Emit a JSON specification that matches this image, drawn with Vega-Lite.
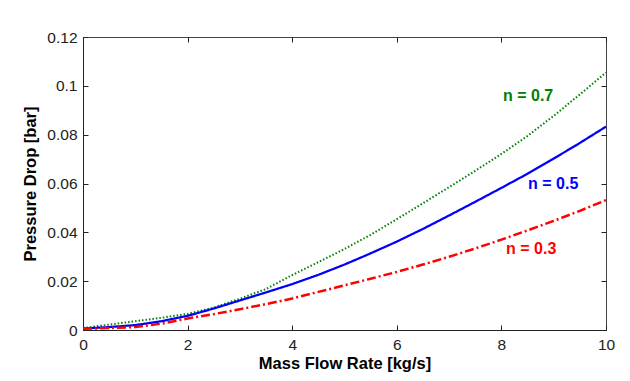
{
  "$schema": "https://vega.github.io/schema/vega-lite/v6.json",
  "width": 523,
  "height": 293,
  "autosize": {"type": "none"},
  "padding": {"left": 83, "top": 37, "right": 24, "bottom": 51},
  "background": "white",
  "config": {
    "view": {"stroke": "#444", "strokeWidth": 1},
    "axis": {
      "grid": false,
      "labelFont": "Liberation Sans",
      "labelFontSize": 15.5,
      "labelColor": "#222",
      "titleFont": "Liberation Sans",
      "titleFontSize": 16.5,
      "titleFontWeight": "bold",
      "titleColor": "#000",
      "domainColor": "#222",
      "tickColor": "#222",
      "tickSize": -5,
      "labelFlush": false,
      "labelOverlap": false
    }
  },
  "datasets": {
    "curves": [
      {"flow": 0, "dp": 0.0008, "n": "0.7"},
      {"flow": 0.5, "dp": 0.0022, "n": "0.7"},
      {"flow": 1, "dp": 0.0036, "n": "0.7"},
      {"flow": 1.5, "dp": 0.005, "n": "0.7"},
      {"flow": 2, "dp": 0.0066, "n": "0.7"},
      {"flow": 2.5, "dp": 0.0092, "n": "0.7"},
      {"flow": 3, "dp": 0.0128, "n": "0.7"},
      {"flow": 3.5, "dp": 0.0168, "n": "0.7"},
      {"flow": 4, "dp": 0.0225, "n": "0.7"},
      {"flow": 4.5, "dp": 0.0278, "n": "0.7"},
      {"flow": 5, "dp": 0.0332, "n": "0.7"},
      {"flow": 5.5, "dp": 0.039, "n": "0.7"},
      {"flow": 6, "dp": 0.0454, "n": "0.7"},
      {"flow": 6.5, "dp": 0.0519, "n": "0.7"},
      {"flow": 7, "dp": 0.0585, "n": "0.7"},
      {"flow": 7.5, "dp": 0.0652, "n": "0.7"},
      {"flow": 8, "dp": 0.0721, "n": "0.7"},
      {"flow": 8.5, "dp": 0.0795, "n": "0.7"},
      {"flow": 9, "dp": 0.0877, "n": "0.7"},
      {"flow": 9.5, "dp": 0.0965, "n": "0.7"},
      {"flow": 10, "dp": 0.1055, "n": "0.7"},
      {"flow": 0, "dp": 0.0006, "n": "0.5"},
      {"flow": 0.5, "dp": 0.0012, "n": "0.5"},
      {"flow": 1, "dp": 0.002, "n": "0.5"},
      {"flow": 1.5, "dp": 0.0036, "n": "0.5"},
      {"flow": 2, "dp": 0.0058, "n": "0.5"},
      {"flow": 2.5, "dp": 0.0088, "n": "0.5"},
      {"flow": 3, "dp": 0.0121, "n": "0.5"},
      {"flow": 3.5, "dp": 0.0154, "n": "0.5"},
      {"flow": 4, "dp": 0.0188, "n": "0.5"},
      {"flow": 4.5, "dp": 0.0226, "n": "0.5"},
      {"flow": 5, "dp": 0.0268, "n": "0.5"},
      {"flow": 5.5, "dp": 0.0314, "n": "0.5"},
      {"flow": 6, "dp": 0.0362, "n": "0.5"},
      {"flow": 6.5, "dp": 0.0414, "n": "0.5"},
      {"flow": 7, "dp": 0.0469, "n": "0.5"},
      {"flow": 7.5, "dp": 0.0525, "n": "0.5"},
      {"flow": 8, "dp": 0.0582, "n": "0.5"},
      {"flow": 8.5, "dp": 0.064, "n": "0.5"},
      {"flow": 9, "dp": 0.0702, "n": "0.5"},
      {"flow": 9.5, "dp": 0.0766, "n": "0.5"},
      {"flow": 10, "dp": 0.0833, "n": "0.5"},
      {"flow": 0, "dp": 0.0005, "n": "0.3"},
      {"flow": 0.5, "dp": 0.0008, "n": "0.3"},
      {"flow": 1, "dp": 0.0012, "n": "0.3"},
      {"flow": 1.5, "dp": 0.0026, "n": "0.3"},
      {"flow": 2, "dp": 0.0047, "n": "0.3"},
      {"flow": 2.5, "dp": 0.0065, "n": "0.3"},
      {"flow": 3, "dp": 0.0085, "n": "0.3"},
      {"flow": 3.5, "dp": 0.0106, "n": "0.3"},
      {"flow": 4, "dp": 0.0129, "n": "0.3"},
      {"flow": 4.5, "dp": 0.0156, "n": "0.3"},
      {"flow": 5, "dp": 0.0183, "n": "0.3"},
      {"flow": 5.5, "dp": 0.021, "n": "0.3"},
      {"flow": 6, "dp": 0.0238, "n": "0.3"},
      {"flow": 6.5, "dp": 0.0268, "n": "0.3"},
      {"flow": 7, "dp": 0.03, "n": "0.3"},
      {"flow": 7.5, "dp": 0.0334, "n": "0.3"},
      {"flow": 8, "dp": 0.037, "n": "0.3"},
      {"flow": 8.5, "dp": 0.0408, "n": "0.3"},
      {"flow": 9, "dp": 0.0447, "n": "0.3"},
      {"flow": 9.5, "dp": 0.0488, "n": "0.3"},
      {"flow": 10, "dp": 0.0532, "n": "0.3"}
    ],
    "labels": [
      {"flow": 8.03, "dp": 0.0958, "n": "0.7", "label": "n = 0.7"},
      {"flow": 8.51, "dp": 0.0598, "n": "0.5", "label": "n = 0.5"},
      {"flow": 8.09, "dp": 0.0332, "n": "0.3", "label": "n = 0.3"}
    ]
  },
  "layer": [
    {
      "data": {"name": "curves"},
      "mark": {"type": "line"},
      "encoding": {
        "x": {
          "field": "flow", "type": "quantitative",
          "scale": {"domain": [0, 10], "nice": false},
          "axis": {"orient": "bottom", "values": [0, 2, 4, 6, 8, 10], "title": "Mass Flow Rate [kg/s]", "labelPadding": 12, "titlePadding": 3}
        },
        "y": {
          "field": "dp", "type": "quantitative",
          "scale": {"domain": [0, 0.12], "nice": false},
          "axis": {"orient": "left", "values": [0, 0.02, 0.04, 0.06, 0.08, 0.1, 0.12], "format": ".2~f", "title": "Pressure Drop [bar]", "labelPadding": 11, "titlePadding": 8}
        },
        "color": {"field": "n", "type": "nominal", "scale": {"domain": ["0.7", "0.5", "0.3"], "range": ["#008000", "#0000ff", "#ff0000"]}, "legend": null},
        "strokeDash": {"field": "n", "type": "nominal", "scale": {"domain": ["0.7", "0.5", "0.3"], "range": [[1.5, 2], [1, 0], [9, 3, 2, 3]]}, "legend": null},
        "strokeWidth": {"field": "n", "type": "nominal", "scale": {"domain": ["0.7", "0.5", "0.3"], "range": [2, 2.5, 2]}, "legend": null}
      }
    },
    {
      "data": {"name": "labels"},
      "mark": {"type": "text", "align": "left", "baseline": "middle", "font": "Liberation Sans", "fontSize": 16, "fontWeight": "bold"},
      "encoding": {
        "x": {"field": "flow", "type": "quantitative", "axis": null},
        "y": {"field": "dp", "type": "quantitative", "axis": null},
        "text": {"field": "label"},
        "color": {"field": "n", "type": "nominal", "scale": {"domain": ["0.7", "0.5", "0.3"], "range": ["#008000", "#0000ff", "#ff0000"]}, "legend": null}
      }
    },
    {
      "data": {"name": "labels"},
      "mark": {"type": "point", "opacity": 0},
      "encoding": {
        "x": {"field": "flow", "type": "quantitative", "axis": {"orient": "top", "values": [0, 2, 4, 6, 8, 10], "labels": false, "title": null, "domain": false}},
        "y": {"field": "dp", "type": "quantitative", "axis": {"orient": "right", "values": [0, 0.02, 0.04, 0.06, 0.08, 0.1, 0.12], "labels": false, "title": null, "domain": false}}
      }
    }
  ],
  "resolve": {"axis": {"x": "independent", "y": "independent"}}
}
